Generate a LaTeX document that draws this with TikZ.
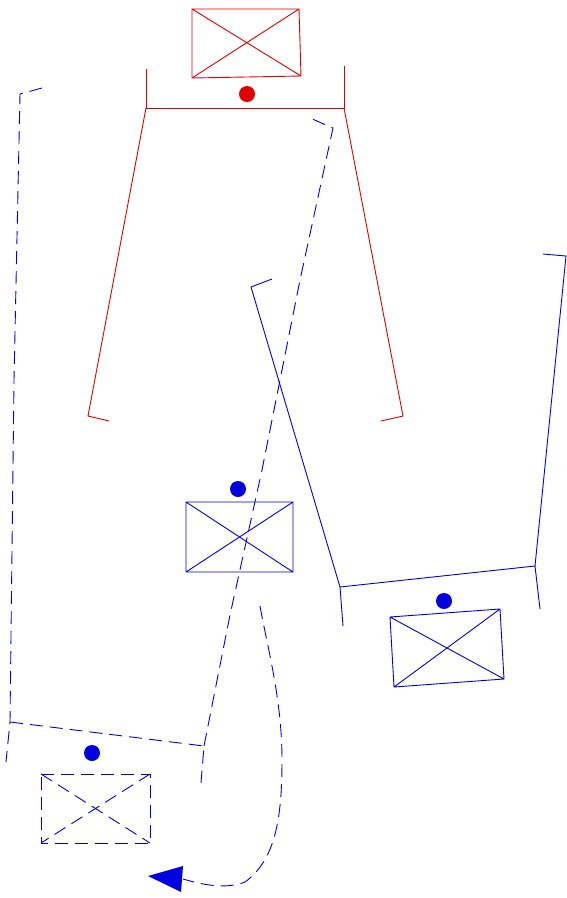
\documentclass[tikz,border=0pt]{standalone}
\definecolor{sred}{RGB}{225,0,0}
\definecolor{sblue}{RGB}{0,0,225}
\tikzset{
  redline/.style={draw=sred,line width=0.9pt},
  blueline/.style={draw=sblue,line width=0.9pt},
  bluedash/.style={draw=sblue,line width=0.9pt,dash pattern=on 13pt off 7pt},
  dot/.style={circle,inner sep=0pt,minimum size=16pt},
}
\begin{document}
\begin{tikzpicture}[x=1pt,y=-1pt]
\useasboundingbox (0,0) rectangle (567,898);
% red unit
\coordinate (ra) at (192,9); \coordinate (rb) at (299,9);
\coordinate (rc) at (301,76); \coordinate (rd) at (192,78);
\draw[redline] (ra) -- (rb) -- (rc) -- (rd) -- cycle (ra) -- (rc) (rb) -- (rd);
\node[dot,fill=sred] (rdot) at (247,94) {};
\coordinate (rl) at (146,108); \coordinate (rr) at (344,108);
\draw[redline] (146,69) -- (rl) -- (rr) -- (344,66);
\draw[redline] (rl) -- (88,416) -- (109,421);
\draw[redline] (rr) -- (403,416) -- (381,421);
% blue solid unit
\coordinate (ba) at (251,287); \coordinate (bb) at (340,587);
\coordinate (bc) at (535,566);
\draw[blueline] (272,279) -- (ba) -- (bb) -- (bc) -- (566,256) -- (543,254);
\draw[blueline] (bb) -- (343,626);
\draw[blueline] (bc) -- (540,609);
% blue box center
\coordinate (ca) at (186,502); \coordinate (cb) at (293,502);
\coordinate (cc) at (293,572); \coordinate (cd) at (186,572);
\draw[blueline] (ca) -- (cb) -- (cc) -- (cd) -- cycle (ca) -- (cc) (cb) -- (cd);
\node[dot,fill=sblue] (cdot) at (238,489) {};
% blue box right
\coordinate (ea) at (390,617); \coordinate (eb) at (500,609);
\coordinate (ec) at (504,679); \coordinate (ed) at (394,687);
\draw[blueline] (ea) -- (eb) -- (ec) -- (ed) -- cycle (ea) -- (ec) (eb) -- (ed);
\node[dot,fill=sblue] (edot) at (444,601) {};
% dashed unit
\coordinate (da) at (20,94); \coordinate (db) at (10,722);
\coordinate (dc) at (204,746); \coordinate (dd) at (333,128);
\draw[bluedash] (42,88) -- (da) -- (14,380) -- (db) -- (6,762);
\draw[bluedash] (db) -- (dc) -- (201,783);
\draw[bluedash] (dc) -- (230,615) -- (262,470) -- (300,280) -- (dd) -- (310,118);
% dashed box
\coordinate (fa) at (41,774); \coordinate (fb) at (150,774);
\coordinate (fc) at (150,843); \coordinate (fd) at (41,843);
\draw[bluedash] (fa) -- (fb) -- (fc) -- (fd) -- cycle;
\draw[bluedash] (fa) -- (fc);
\draw[bluedash] (fb) -- (fd);
\node[dot,fill=sblue] (fdot) at (92,753) {};
% dashed curve with arrow
\coordinate (g0) at (260,606);
\coordinate (tip) at (148,876);
\draw[bluedash] (g0) .. controls (268,650) and (282,700) .. (282,760)
  .. controls (282,820) and (275,860) .. (245,882)
  .. controls (225,890) and (200,884) .. (183,879);
\fill[sblue] (tip) -- (183,866) -- (181,892) -- cycle;
\end{tikzpicture}
\end{document}
